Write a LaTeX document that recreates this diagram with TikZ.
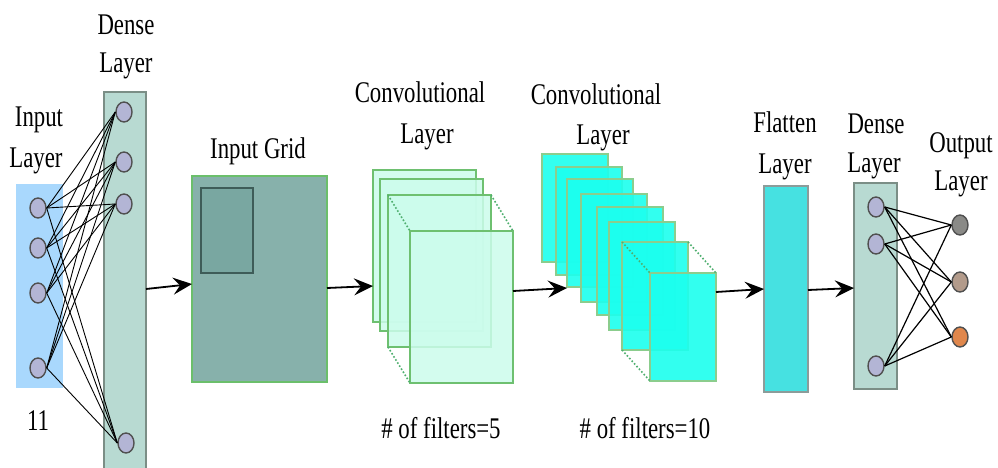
\documentclass[tikz,border=0pt]{standalone}
\usepackage{fontspec}
\newfontfamily\lblfont[FakeStretch=0.76]{Liberation Serif}
\usetikzlibrary{shapes.geometric,arrows.meta,calc}

\definecolor{inblue}{HTML}{A9D8FD}
\definecolor{densefill}{HTML}{B8DAD2}
\definecolor{denseedge}{HTML}{7B8E86}
\definecolor{neuronfill}{HTML}{B3B5D5}
\definecolor{neuronedge}{HTML}{505050}
\definecolor{gridfill}{HTML}{87B1AB}
\definecolor{gridedge}{HTML}{6BBF6B}
\definecolor{winfill}{HTML}{79A7A1}
\definecolor{winedge}{HTML}{3E5C58}
\definecolor{mapA}{HTML}{CCFCEC}
\definecolor{mapB}{HTML}{1CFFEE}
\definecolor{mapedge}{HTML}{6EC070}
\definecolor{dotgreen}{HTML}{4FAF6F}
\definecolor{flatfill}{HTML}{46E1E1}
\definecolor{flatedge}{HTML}{8C9C9A}
\definecolor{outA}{HTML}{8A8A87}
\definecolor{outB}{HTML}{B39B8B}
\definecolor{outC}{HTML}{E0874C}

\tikzset{
  panel/.style={anchor=north west, inner sep=0, outer sep=0},
  densebar/.style={panel, fill=densefill, draw=denseedge, line width=1.8},
  mapone/.style={panel, fill=mapA, fill opacity=0.85, draw=mapedge, draw opacity=1, line width=1.6, minimum width=103, minimum height=152},
  maptwo/.style={panel, fill=mapB, fill opacity=0.9, draw=mapedge!80!white, draw opacity=1, line width=1.3, minimum width=66, minimum height=108},
  neuron/.style={ellipse, draw=neuronedge, line width=1.4, fill=neuronfill, minimum width=16, minimum height=20, inner sep=0},
  lbl/.style={font=\lblfont\fontsize{30}{36}\selectfont, anchor=base, inner sep=0},
  link/.style={line width=0.9, black},
  linkb/.style={line width=1.2, black},
  dots/.style={dotgreen, line width=1.6, dotted},
  arr/.style={line width=1.8, -{Stealth[length=19, width=17, inset=7]}}
}

\begin{document}
\begin{tikzpicture}[x=1pt,y=-1pt]
\useasboundingbox (0,0) rectangle (998,468);
\fill[white] (0,0) rectangle (998,468);

% ---- input layer and first dense layer ----
\node[panel, fill=inblue, minimum width=47, minimum height=204] (inbox) at (16,184) {};
\node[densebar, minimum width=42, minimum height=392] (dense1) at (104,92) {};

\node[neuron] (i1) at (38,208) {};
\node[neuron] (i2) at (38,248) {};
\node[neuron] (i3) at (38,293) {};
\node[neuron] (i4) at (38,368) {};
\node[neuron] (d1) at (124,112) {};
\node[neuron] (d2) at (124,162) {};
\node[neuron] (d3) at (124,204) {};
\node[neuron] (d4) at (126,443) {};

\foreach \a in {i1,i2,i3,i4}
  \foreach \b in {d1,d2,d3,d4}
    \draw[link] (\a.east) -- (\b.west);

\node[lbl] (tin1) at (39,127) {Input};
\node[lbl] (tin2) at (36,167) {Layer};
\node[lbl] (tin3) at (38,430) {11};
\node[lbl] (tde1) at (126,35) {Dense};
\node[lbl] (tde2) at (126,73) {Layer};

% ---- input grid ----
\node[panel, fill=gridfill, draw=gridedge, line width=2, minimum width=135, minimum height=206] (grid) at (192,176) {};
\node[panel, fill=winfill, draw=winedge, line width=1.2, minimum width=52, minimum height=85] (win) at (201,188) {};
\node[lbl] (tgrid) at (258,158) {Input Grid};

% ---- first convolutional layer ----
\node[mapone] (c1a) at (373,170) {};
\node[mapone] (c1b) at (380,179) {};
\node[mapone] (c1c) at (388,195) {};
\node[mapone] (c1d) at (410,231) {};
\draw[dots] (c1c.north west) -- (c1d.north west);
\draw[dots] (c1c.north east) -- (c1d.north east);
\draw[dots] (c1c.south west) -- (c1d.south west);
\node[lbl] (tc11) at (420,103) {Convolutional};
\node[lbl] (tc12) at (427,143) {Layer};
\node[lbl] (tc13) at (441,438) {\# of filters=5};

% ---- second convolutional layer ----
\node[maptwo] (c2a) at (542,154) {};
\node[maptwo] (c2b) at (556,167) {};
\node[maptwo] (c2c) at (567,179) {};
\node[maptwo] (c2d) at (581,194) {};
\node[maptwo] (c2e) at (597,207) {};
\node[maptwo] (c2f) at (609,222) {};
\node[maptwo] (c2g) at (622,242) {};
\node[maptwo] (c2h) at (650,273) {};
\draw[dots] (c2g.north west) -- (c2h.north west);
\draw[dots] (c2g.north east) -- (c2h.north east);
\draw[dots] (c2g.south west) -- (c2h.south west);
\node[lbl] (tc21) at (596,105) {Convolutional};
\node[lbl] (tc22) at (603,145) {Layer};
\node[lbl] (tc23) at (645,438) {\# of filters=10};

% ---- flatten layer ----
\node[panel, fill=flatfill, draw=flatedge, line width=1.5, minimum width=44, minimum height=206] (flat) at (764,186) {};
\node[lbl] (tfl1) at (785,132) {Flatten};
\node[lbl] (tfl2) at (785,173) {Layer};

% ---- second dense layer and output ----
\node[densebar, minimum width=43, minimum height=206] (dense2) at (854,183) {};
\node[neuron] (e1) at (876,207) {};
\node[neuron] (e2) at (876,244) {};
\node[neuron] (e3) at (876,366) {};
\node[neuron, fill=outA] (o1) at (960,225) {};
\node[neuron, fill=outB] (o2) at (960,282) {};
\node[neuron, fill=outC] (o3) at (960,337) {};
\foreach \a in {e1,e2,e3}
  \foreach \b in {o1,o2,o3}
    \draw[linkb] (\a.east) -- (\b.west);
\node[lbl] (tdn1) at (876,133) {Dense};
\node[lbl] (tdn2) at (874,172) {Layer};
\node[lbl] (tou1) at (961,152) {Output};
\node[lbl] (tou2) at (961,190) {Layer};

% ---- flow arrows ----
\draw[arr] ([yshift=-1]dense1.east) -- ([yshift=-5]grid.west);
\draw[arr] ([yshift=-9]grid.east) -- ([yshift=-40]c1a.west);
\draw[arr] ([yshift=16]c1d.east) -- ([yshift=-1]c2c.south west);
\draw[arr] ([yshift=35]c2h.east) -- (flat.west);
\draw[arr] ([yshift=-1]flat.east) -- ([yshift=-2]dense2.west);
\end{tikzpicture}
\end{document}
